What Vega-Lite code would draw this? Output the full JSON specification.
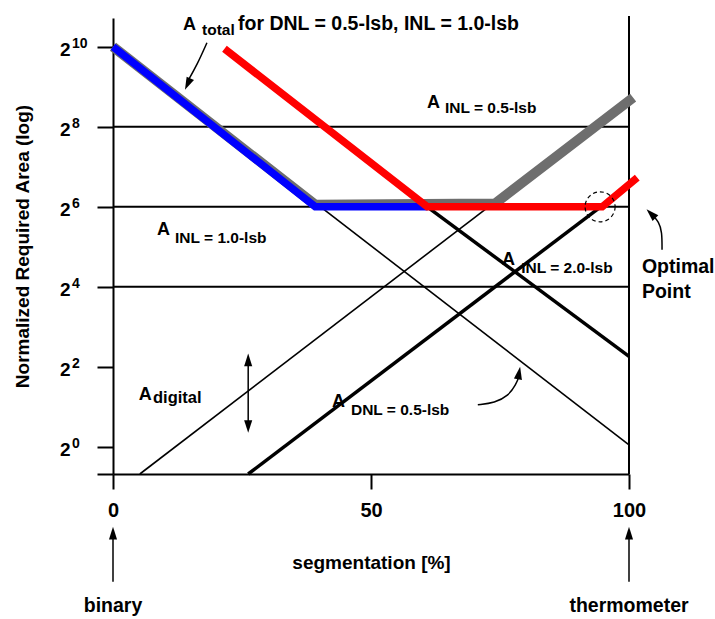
{
  "$schema": "https://vega.github.io/schema/vega-lite/v6.json",
  "autosize": {"type": "none"},
  "padding": {"left": 113, "top": 18, "right": 86, "bottom": 145},
  "width": 516,
  "height": 456,
  "background": "white",
  "config": {"font": "Liberation Sans", "view": {"stroke": null}},
  "datasets": {
    "grid": [{"x": 0, "x2": 100, "e": 8}, {"x": 0, "x2": 100, "e": 6}, {"x": 0, "x2": 100, "e": 4}],
    "frame": [{"x": 100, "e": -0.68, "e2": 10.77}],
    "thin": [
      {"id": "INL1", "x": 0, "e": 10, "o": 1}, {"id": "INL1", "x": 100, "e": 0.05, "o": 2},
      {"id": "digital", "x": 5.2, "e": -0.68, "o": 1}, {"id": "digital", "x": 73.8, "e": 6.1, "o": 2}
    ],
    "thick": [
      {"id": "INL2", "x": 60.9, "e": 6, "o": 1}, {"id": "INL2", "x": 100, "e": 2.26, "o": 2},
      {"id": "DNL", "x": 26.2, "e": -0.68, "o": 1}, {"id": "DNL", "x": 94.5, "e": 6.0, "o": 2}
    ],
    "gray": [{"x": 0, "e": 10, "o": 1}, {"x": 39.2, "e": 6.05, "o": 2}, {"x": 74, "e": 6.08, "o": 3}, {"x": 100.8, "e": 8.73, "o": 4}],
    "blue": [{"x": 0, "e": 10, "o": 1}, {"x": 39.2, "e": 6.0, "o": 2}, {"x": 61, "e": 6.0, "o": 3}],
    "red": [{"x": 21.6, "e": 9.95, "o": 1}, {"x": 60.9, "e": 6.0, "o": 2}, {"x": 94.8, "e": 6.0, "o": 3}, {"x": 101.6, "e": 6.73, "o": 4}],
    "optimum": [{"x": 94.4, "e": 6.0}],
    "arrows": [
      {"id": "total", "x": 18.2, "e": 10.1, "o": 1}, {"id": "total", "x": 16.3, "e": 9.55, "o": 2}, {"id": "total", "x": 14.3, "e": 9.1, "o": 3},
      {"id": "dig", "x": 26.2, "e": 2.1, "o": 1}, {"id": "dig", "x": 26.2, "e": 0.55, "o": 2},
      {"id": "dnl", "x": 70.7, "e": 1.05, "o": 1}, {"id": "dnl", "x": 74.0, "e": 1.1, "o": 2}, {"id": "dnl", "x": 76.6, "e": 1.275, "o": 3}, {"id": "dnl", "x": 78.1, "e": 1.55, "o": 4}, {"id": "dnl", "x": 78.8, "e": 1.8, "o": 5},
      {"id": "opt", "x": 106.4, "e": 4.925, "o": 1}, {"id": "opt", "x": 106.4, "e": 5.375, "o": 2}, {"id": "opt", "x": 105.8, "e": 5.625, "o": 3}, {"id": "opt", "x": 104.5, "e": 5.8, "o": 4},
      {"id": "bin", "x": 0, "e": -3.375, "o": 1}, {"id": "bin", "x": 0, "e": -2.2, "o": 2},
      {"id": "thermo", "x": 100, "e": -3.375, "o": 1}, {"id": "thermo", "x": 100, "e": -2.2, "o": 2}
    ],
    "heads": [
      {"x": 13.95, "e": 8.925, "heading": 205},
      {"x": 26.2, "e": 2.33, "heading": 0},
      {"x": 26.2, "e": 0.35, "heading": 180},
      {"x": 78.9, "e": 2.0, "heading": 10},
      {"x": 103.4, "e": 5.94, "heading": -45},
      {"x": 0, "e": -2.0, "heading": 0},
      {"x": 100, "e": -2.0, "heading": 0}
    ],
    "bigA": [
      {"x": 13.57, "e": 10.425, "t": "A"},
      {"x": 60.85, "e": 8.475, "t": "A"},
      {"x": 8.53, "e": 5.3, "t": "A"},
      {"x": 75.4, "e": 4.55, "t": "A"},
      {"x": 5.0, "e": 1.175, "t": "A"},
      {"x": 42.44, "e": 1.0, "t": "A"}
    ],
    "subs": [
      {"x": 17.25, "e": 10.3, "t": "total"},
      {"x": 64.34, "e": 8.34, "t": "INL = 0.5-lsb"},
      {"x": 12.02, "e": 5.1, "t": "INL = 1.0-lsb"},
      {"x": 79.1, "e": 4.35, "t": "INL = 2.0-lsb"},
      {"x": 46.12, "e": 0.8, "t": "DNL = 0.5-lsb"}
    ],
    "digitalSub": [{"x": 7.75, "e": 1.1, "t": "digital"}],
    "notes": [
      {"x": 24.22, "e": 10.425, "t": "for DNL = 0.5-lsb, INL = 1.0-lsb"},
      {"x": 102.5, "e": 4.35, "t": "Optimal"},
      {"x": 102.5, "e": 3.725, "t": "Point"}
    ],
    "ends": [{"x": 0, "e": -4.12, "t": "binary"}, {"x": 100, "e": -4.12, "t": "thermometer"}],
    "exps": [
      {"x": -7.95, "e": 10, "p": "10"}, {"x": -7.95, "e": 8, "p": "8"}, {"x": -7.95, "e": 6, "p": "6"},
      {"x": -7.95, "e": 4, "p": "4"}, {"x": -7.95, "e": 2, "p": "2"}, {"x": -7.95, "e": 0, "p": "0"}
    ]
  },
  "encoding": {
    "x": {
      "field": "x", "type": "quantitative",
      "scale": {"domain": [0, 100], "nice": false, "zero": false},
      "axis": {
        "values": [0, 50, 100], "title": "segmentation [%]", "grid": false,
        "domainColor": "black", "domainWidth": 2, "tickColor": "black", "tickWidth": 2, "tickSize": 15,
        "labelFontSize": 20, "labelFontWeight": "bold", "labelColor": "black", "labelPadding": 11, "labelFlush": false,
        "titleFontSize": 19, "titleFontWeight": "bold", "titleColor": "black", "titlePadding": 33
      }
    },
    "y": {
      "field": "e", "type": "quantitative",
      "scale": {"domain": [-0.68, 10.72], "nice": false, "zero": false},
      "axis": {
        "values": [-0.68, 0, 2, 4, 6, 8, 10], "labelExpr": "datum.value < 0 ? '' : '2'", "grid": false,
        "title": "Normalized Required Area (log)",
        "domainColor": "black", "domainWidth": 2, "tickColor": "black", "tickWidth": 2, "tickSize": 16,
        "labelFontSize": 19, "labelFontWeight": "bold", "labelColor": "black", "labelPadding": 27,
        "labelBaseline": "alphabetic", "labelOffset": 9, "labelFlush": false, "labelOverlap": false,
        "titleFontSize": 19, "titleFontWeight": "bold", "titleColor": "black", "titlePadding": 27
      }
    }
  },
  "layer": [
    {"data": {"name": "grid"}, "mark": {"type": "rule", "color": "black", "strokeWidth": 2},
     "encoding": {"x2": {"field": "x2"}}},
    {"data": {"name": "frame"}, "mark": {"type": "rule", "color": "black", "strokeWidth": 2},
     "encoding": {"y2": {"field": "e2"}}},
    {"data": {"name": "thin"}, "mark": {"type": "line", "color": "black", "strokeWidth": 1.6},
     "encoding": {"detail": {"field": "id"}, "order": {"field": "o"}}},
    {"data": {"name": "thick"}, "mark": {"type": "line", "color": "black", "strokeWidth": 3.5},
     "encoding": {"detail": {"field": "id"}, "order": {"field": "o"}}},
    {"data": {"name": "gray"}, "mark": {"type": "line", "color": "#6e6e6e", "strokeWidth": 10},
     "encoding": {"order": {"field": "o"}}},
    {"data": {"name": "blue"}, "mark": {"type": "line", "color": "#0000ff", "strokeWidth": 7.5},
     "encoding": {"order": {"field": "o"}}},
    {"data": {"name": "red"}, "mark": {"type": "line", "color": "#ff0000", "strokeWidth": 7.5},
     "encoding": {"order": {"field": "o"}}},
    {"data": {"name": "optimum"}, "mark": {"type": "point", "shape": "circle", "size": 900, "filled": false, "stroke": "black", "strokeWidth": 1.2, "strokeDash": [4, 3], "opacity": 1}},
    {"data": {"name": "arrows"}, "mark": {"type": "line", "color": "black", "strokeWidth": 1.5, "interpolate": "basis"},
     "encoding": {"detail": {"field": "id"}, "order": {"field": "o"}}},
    {"data": {"name": "heads"}, "mark": {"type": "point", "shape": "M0,0L-0.45,1.4L0.45,1.4Z", "size": 324, "filled": true, "color": "black", "opacity": 1},
     "encoding": {"angle": {"field": "heading", "type": "quantitative", "scale": null}}},
    {"data": {"name": "bigA"}, "mark": {"type": "text", "fontSize": 18, "fontWeight": "bold", "align": "left", "baseline": "alphabetic", "color": "black"},
     "encoding": {"text": {"field": "t"}}},
    {"data": {"name": "subs"}, "mark": {"type": "text", "fontSize": 15.5, "fontWeight": "bold", "align": "left", "baseline": "alphabetic", "color": "black"},
     "encoding": {"text": {"field": "t"}}},
    {"data": {"name": "digitalSub"}, "mark": {"type": "text", "fontSize": 16.5, "fontWeight": "bold", "align": "left", "baseline": "alphabetic", "color": "black"},
     "encoding": {"text": {"field": "t"}}},
    {"data": {"name": "notes"}, "mark": {"type": "text", "fontSize": 19.5, "fontWeight": "bold", "align": "left", "baseline": "alphabetic", "color": "black"},
     "encoding": {"text": {"field": "t"}}},
    {"data": {"name": "ends"}, "mark": {"type": "text", "fontSize": 19.5, "fontWeight": "bold", "align": "center", "baseline": "alphabetic", "color": "black"},
     "encoding": {"text": {"field": "t"}}},
    {"data": {"name": "exps"}, "mark": {"type": "text", "fontSize": 14, "fontWeight": "bold", "align": "left", "baseline": "alphabetic", "dy": 1, "color": "black"},
     "encoding": {"text": {"field": "p"}}}
  ]
}
